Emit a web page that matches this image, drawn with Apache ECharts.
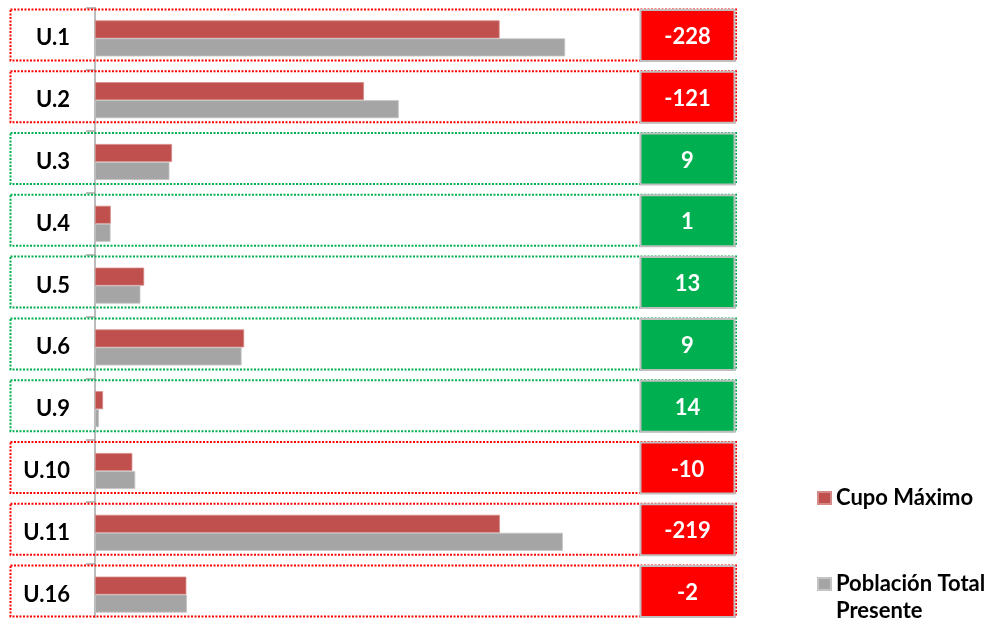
<!DOCTYPE html>
<html><head><meta charset="utf-8">
<script src="https://cdn.jsdelivr.net/npm/echarts@6/dist/echarts.min.js"></script>
<style>html,body{margin:0;padding:0;background:#fff}#c{width:995px;height:618px}</style>
</head><body><div id="c"></div>
<script>
const categories = ['U.1', 'U.2', 'U.3', 'U.4', 'U.5', 'U.6', 'U.9', 'U.10', 'U.11', 'U.16'];
const cupoMaximo = [1408, 936, 268, 55, 171, 519, 28, 130, 1409, 318];
const poblacionTotal = [1636, 1057, 259, 54, 158, 510, 14, 140, 1628, 320];
const diferencia = [-228, -121, 9, 1, 13, 9, 14, -10, -219, -2];
const seriesNames = ['Cupo Máximo', 'Población Total Presente'];

const FONT = 'Lato, "Open Sans", sans-serif';
const RED = '#FF0000', GREEN = '#00B050';

const chart = echarts.init(document.getElementById('c'), null, { renderer: 'canvas' });

function renderBox(params, api) {
  const idx = api.value(1);
  const d = api.value(2);
  const cs = params.coordSys;
  const c = api.coord([0, idx]);
  const cy = c[1] - 3.5;
  const color = d < 0 ? RED : GREEN;
  const left = cs.x - 84.5;
  const right = cs.x + cs.width + 95;
  return {
    type: 'group',
    children: [
      {
        type: 'rect',
        shape: { x: left, y: cy - 25.5, width: right - left, height: 51 },
        style: { fill: 'none', stroke: color, lineWidth: 2, lineDash: [2, 1.5] }
      },
      {
        type: 'rect',
        shape: { x: cs.x + cs.width - 0.5, y: cy - 25, width: 94, height: 51 },
        style: { fill: color, stroke: '#BFBFBF', lineWidth: 2 }
      },
      {
        type: 'text',
        style: {
          text: String(d), x: cs.x + cs.width + 46.5, y: cy + 2,
          fill: '#fff', align: 'center', verticalAlign: 'middle',
          font: 'bold 22px ' + FONT
        }
      }
    ]
  };
}

const legendText = { fontFamily: FONT, fontWeight: 'bold', fontSize: 22, color: '#000' };

chart.setOption({
  animation: false,
  backgroundColor: '#fff',
  grid: { left: 95, width: 546, top: 7.5, height: 618, outerBoundsMode: 'none', containLabel: false },
  xAxis: { type: 'value', min: 0, max: 1900, show: false },
  yAxis: {
    type: 'category', inverse: true, data: categories,
    axisLine: { show: true, lineStyle: { color: '#A6A6A6', width: 1.5 } },
    axisTick: { show: true, length: 9, lineStyle: { color: '#A6A6A6', width: 1.5 } },
    axisLabel: { color: '#000', fontFamily: FONT, fontWeight: 'bold', fontSize: 22, margin: 25 },
    splitLine: { show: false }
  },
  legend: [
    {
      left: 817, top: 487, padding: 0, orient: 'vertical', selectedMode: false,
      icon: 'rect', itemWidth: 13, itemHeight: 12,
      data: [{ name: seriesNames[0], textStyle: Object.assign({ lineHeight: 22 }, legendText) }],
      textStyle: legendText
    },
    {
      left: 817, top: 543.5, padding: 0, orient: 'vertical', selectedMode: false,
      icon: 'rect', itemWidth: 13, itemHeight: 12,
      formatter: function (n) { return '\nPoblación Total\nPresente'; },
      data: [{ name: seriesNames[1], textStyle: Object.assign({ lineHeight: 27 }, legendText) }],
      textStyle: legendText
    }
  ],
  series: [
    {
      type: 'custom', name: 'cajas', clip: false, z: 1, silent: true,
      data: diferencia.map(function (d, i) { return [0, i, d]; }),
      encode: { x: 0, y: 1 },
      renderItem: renderBox
    },
    {
      type: 'bar', name: seriesNames[0], data: cupoMaximo, barWidth: 18, barGap: '0%', z: 2,
      itemStyle: { color: '#C0504D', borderColor: '#D58A88', borderWidth: 0.8 }
    },
    {
      type: 'bar', name: seriesNames[1], data: poblacionTotal, barWidth: 18, barGap: '0%', z: 2,
      itemStyle: { color: '#A5A5A5', borderColor: '#C4C4C4', borderWidth: 0.8 }
    }
  ]
});
</script>
</body></html>
